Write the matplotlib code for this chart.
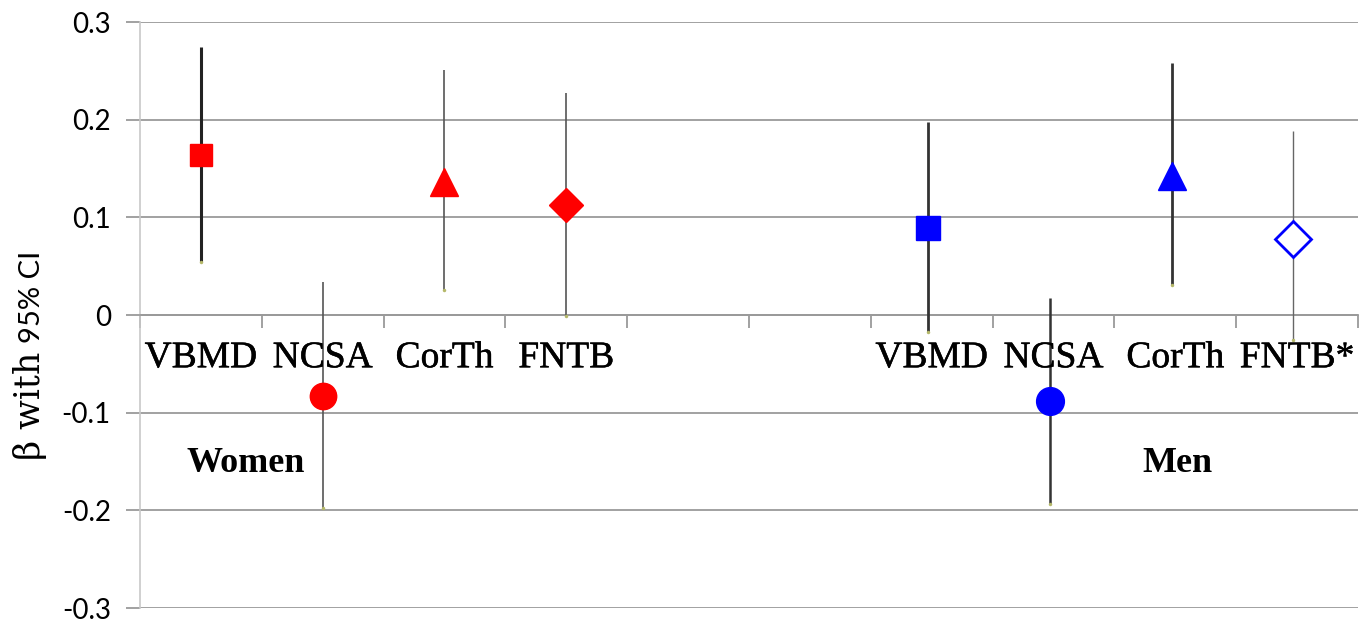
import matplotlib
matplotlib.use("Agg")
import matplotlib.pyplot as plt
import matplotlib.patheffects as pe
import numpy as np

categories = ["VBMD", "NCSA", "CorTh", "FNTB", "", "", "VBMD", "NCSA", "CorTh", "FNTB*"]
slot_pos = [0, 1, 2, 3, 6, 7, 8, 9]           # category slot of each estimate
beta = [0.164, -0.083, 0.136, 0.113, 0.089, -0.088, 0.142, 0.078]
ci_low = [0.054, -0.198, 0.026, -0.001, -0.017, -0.193, 0.031, -0.026]
ci_high = [0.274, 0.034, 0.251, 0.227, 0.198, 0.017, 0.258, 0.188]
yticks = [-0.3, -0.2, -0.1, 0, 0.1, 0.2, 0.3]
ytick_labels = ["-0.3", "-0.2", "-0.1", "0", "0.1", "0.2", "0.3"]

# styling
markers = ["s", "o", "^", "D", "s", "o", "^", "D"]
msizes = [16.5, 19, 20, 17, 17, 20, 19.5, 18]
colors = ["#FF0000"] * 4 + ["#0000FF"] * 4
filled = [True] * 7 + [False]
point_shift = [0, 0, 0, 0, -0.03, -0.03, -0.03, -0.03]
bar_lw = [2.2, 1.2, 1.2, 1.2, 2.0, 1.8, 2.0, 1.0]
bar_col = ["#222222", "#555555", "#555555", "#555555", "#333333", "#333333", "#333333", "#666666"]

fig = plt.figure(figsize=(13.63, 6.22), dpi=100)
ax = fig.add_axes([0.1027, 0.0225, 0.8936, 0.9421])
ax.set_xlim(0, len(categories))
ax.set_ylim(-0.3, 0.3)

ax.set_yticks(yticks)
ax.set_yticklabels(ytick_labels, fontfamily="Lato", fontsize=20)
ax.yaxis.grid(True, color="#9a9a9a", lw=1.3, zorder=0)
ax.tick_params(axis="y", length=10, color="#9a9a9a", width=1.3, pad=11)
for s in ["top", "right"]:
    ax.spines[s].set_visible(False)
ax.spines["left"].set_color("#c8c8c8")
ax.spines["left"].set_linewidth(1.2)
ax.spines["bottom"].set_position(("data", 0))
ax.spines["bottom"].set_color("#9a9a9a")
ax.spines["bottom"].set_linewidth(1.3)
ax.set_xticks(np.arange(len(categories) + 1))
ax.set_xticklabels([])
ax.tick_params(axis="x", length=9, color="#9a9a9a", width=1.3, direction="out")

xs = [p + 0.5 + d for p, d in zip(slot_pos, point_shift)]
for x, b, lo, hi, m, ms, c, f, lw, bc in zip(xs, beta, ci_low, ci_high, markers, msizes,
                                           colors, filled, bar_lw, bar_col):
    ax.plot([x, x], [lo, hi], color=bc, lw=lw, zorder=3, solid_capstyle="butt")
    ax.plot([x], [lo], marker="o", ms=2.5, color="#b5b86a", mec="none", zorder=3)
    if f:
        ax.plot([x], [b], marker=m, ms=ms, color=c, mec=c, zorder=4, ls="none")
    else:
        ax.plot([x], [b], marker=m, ms=ms, mfc="white", mec=c, mew=2, zorder=4, ls="none")

heavy = [pe.withStroke(linewidth=0.35, foreground="black")]
for i, name in enumerate(categories):
    if name:
        ax.text(i + 0.5, -0.044, name, ha="center", va="center",
                fontfamily="Liberation Serif", fontsize=27, zorder=5, path_effects=heavy)

ax.text(0.87, -0.152, "Women", ha="center", va="center", fontfamily="Liberation Serif",
        fontsize=26, fontweight="bold")
ax.text(8.52, -0.152, "Men", ha="center", va="center", fontfamily="Liberation Serif",
        fontsize=26, fontweight="bold")

fig.text(40 / 1363, 1 - 460 / 622, "β with", rotation=90, rotation_mode="anchor",
         ha="left", va="baseline", fontfamily="DejaVu Serif", fontsize=25)
fig.text(40 / 1363, 1 - 343 / 622, "95% CI", rotation=90, rotation_mode="anchor",
         ha="left", va="baseline", fontfamily="Lato", fontsize=21)

fig.savefig("out.png", dpi=100)
